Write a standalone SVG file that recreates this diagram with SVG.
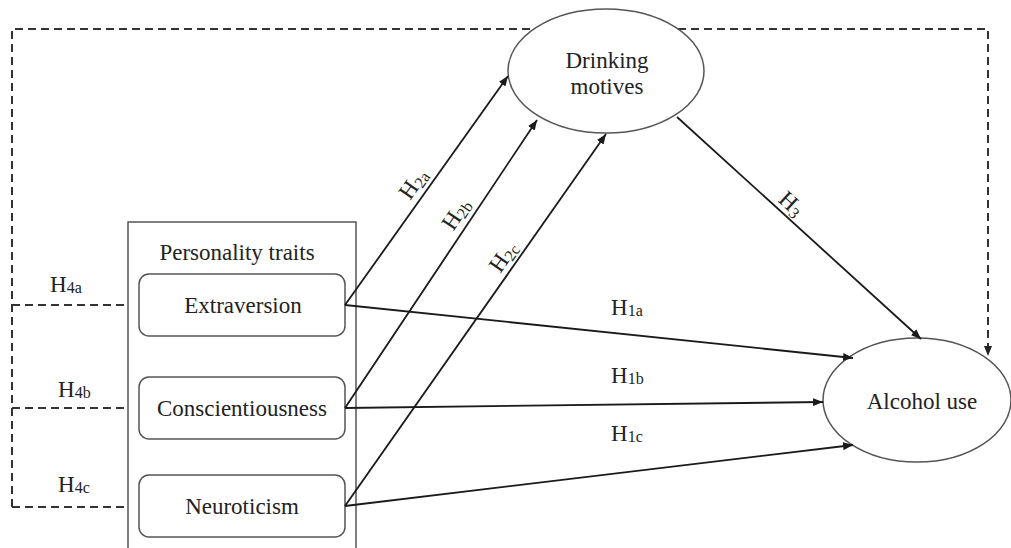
<svg xmlns="http://www.w3.org/2000/svg" width="1011" height="548" viewBox="0 0 1011 548">
<style>
text{font-family:"Liberation Serif","Times New Roman",serif;fill:#222;font-size:23px}
.t{text-anchor:middle}
.sub{font-size:16px}
.ln{stroke:#1a1a1a;stroke-width:1.8;fill:none}
.ds{stroke:#333;stroke-width:2;fill:none;stroke-dasharray:8 5}
.box{fill:#fff;stroke:#555;stroke-width:1.5}
.ell{fill:#fff;stroke:#555;stroke-width:1.5}
</style>
<defs>
<marker id="ah" viewBox="0 0 10 8" refX="10" refY="4" markerWidth="10" markerHeight="8" markerUnits="userSpaceOnUse" orient="auto">
<path d="M0,0 L10,4 L0,8 z" fill="#1a1a1a"/>
</marker>
</defs>
<rect width="1011" height="548" fill="#fff"/>
<g id="connectors">
<path class="ds" d="M12,507 L12,29 L988,29 L988,346"/>
<path d="M984,346 L992,346 L988,356 z" fill="#222"/>
<path class="ds" d="M12,305 L139,305 M12,408 L139,408 M12,507 L139,507"/>
</g>
<g id="personality-traits">
<rect class="box" x="128" y="222" width="228" height="340"/>
<text class="t" x="237" y="260">Personality traits</text>
</g>
<g id="drinking-motives">
<ellipse class="ell" cx="606" cy="71" rx="98" ry="62"/>
<text class="t" x="607" y="68">Drinking</text>
<text class="t" x="607" y="94">motives</text>
</g>
<g id="alcohol-use">
<ellipse class="ell" cx="917" cy="400" rx="94" ry="62"/>
<text class="t" x="922" y="409">Alcohol use</text>
</g>
<g id="extraversion">
<rect class="box" x="139" y="274" width="206" height="62" rx="10"/>
<text class="t" x="243" y="313">Extraversion</text>
</g>
<g id="conscientiousness">
<rect class="box" x="139" y="377" width="206" height="62" rx="10"/>
<text class="t" x="242" y="416">Conscientiousness</text>
</g>
<g id="neuroticism">
<rect class="box" x="139" y="475" width="206" height="62" rx="10"/>
<text class="t" x="242" y="514">Neuroticism</text>
</g>
<g id="arrows">
<line class="ln" x1="345" y1="305" x2="508" y2="76" marker-end="url(#ah)"/>
<line class="ln" x1="345" y1="408" x2="537" y2="120" marker-end="url(#ah)"/>
<line class="ln" x1="345" y1="506" x2="606" y2="134" marker-end="url(#ah)"/>
<line class="ln" x1="677" y1="117" x2="921" y2="339" marker-end="url(#ah)"/>
<line class="ln" x1="345" y1="305" x2="853" y2="358" marker-end="url(#ah)"/>
<line class="ln" x1="345" y1="408" x2="823" y2="402" marker-end="url(#ah)"/>
<line class="ln" x1="345" y1="506" x2="853" y2="445" marker-end="url(#ah)"/>
</g>
<g id="labels">
<text transform="translate(425,192) rotate(-54.7)" class="t" y="-7">H<tspan class="sub" dy="3">2a</tspan></text>
<text transform="translate(468,222) rotate(-56.3)" class="t" y="-7">H<tspan class="sub" dy="3">2b</tspan></text>
<text transform="translate(515,265) rotate(-54.9)" class="t" y="-7">H<tspan class="sub" dy="3">2c</tspan></text>
<text transform="translate(783,213) rotate(42.3)" class="t" y="-5">H<tspan class="sub" dy="3">3</tspan></text>
<text x="611" y="315">H<tspan class="sub" dy="1">1a</tspan></text>
<text x="611" y="383">H<tspan class="sub" dy="1">1b</tspan></text>
<text x="611" y="441">H<tspan class="sub" dy="1">1c</tspan></text>
<text x="50" y="292">H<tspan class="sub" dy="1">4a</tspan></text>
<text x="58" y="397">H<tspan class="sub" dy="1">4b</tspan></text>
<text x="58" y="492">H<tspan class="sub" dy="1">4c</tspan></text>
</g>
</svg>
